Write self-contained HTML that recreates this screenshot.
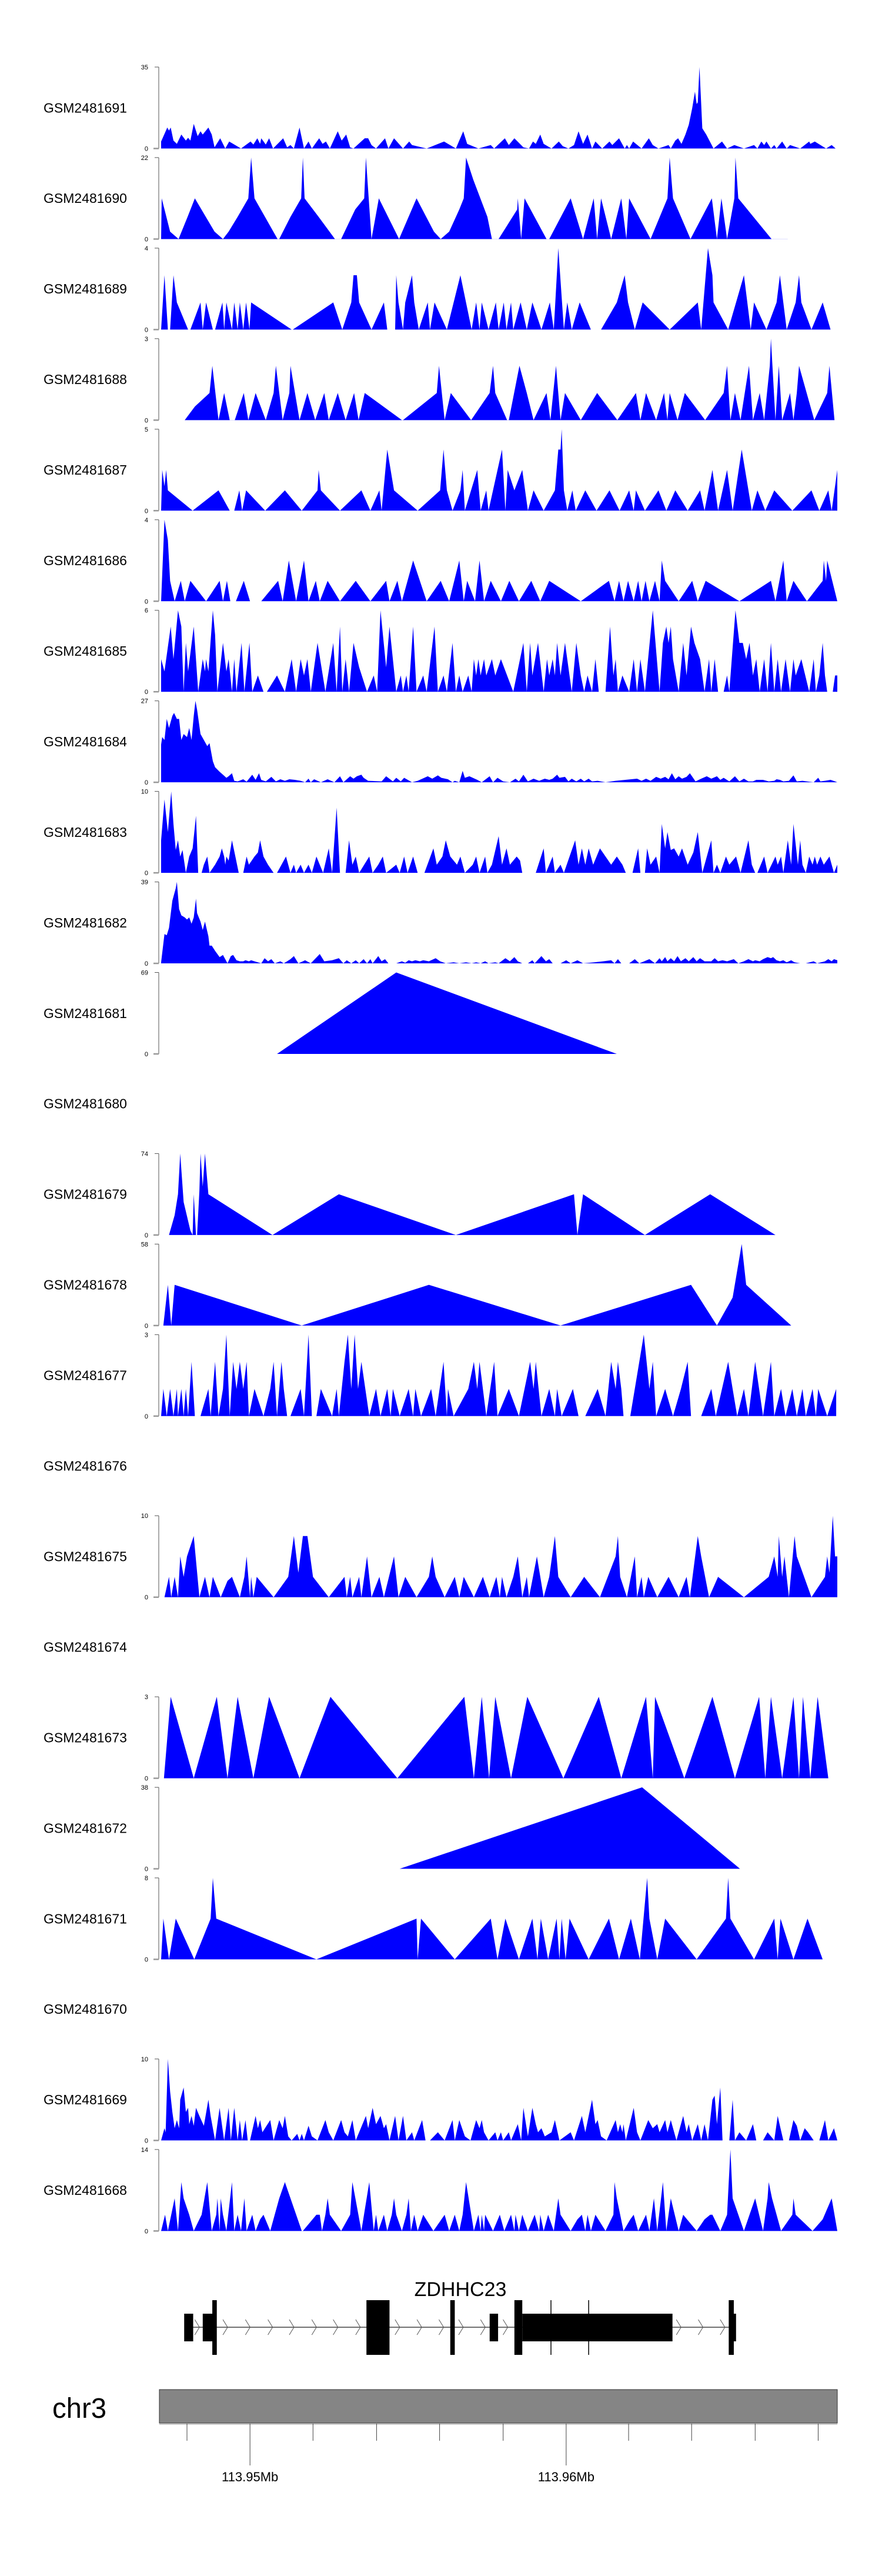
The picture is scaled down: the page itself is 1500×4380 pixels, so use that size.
<!DOCTYPE html>
<html><head><meta charset="utf-8">
<style>
html,body{margin:0;padding:0;background:#fff;}
svg{display:block;font-family:"Liberation Sans",sans-serif;}
</style></head>
<body>
<svg id="fig" width="1500" height="4380" viewBox="0 0 1500 4380" xmlns="http://www.w3.org/2000/svg"></svg>
<script>
// ---- data: genomic bin positions (0..1202) and coverage values ----
const sampleNames = ["GSM2481691","GSM2481690","GSM2481689","GSM2481688","GSM2481687","GSM2481686","GSM2481685","GSM2481684","GSM2481683","GSM2481682","GSM2481681","GSM2481680","GSM2481679","GSM2481678","GSM2481677","GSM2481676","GSM2481675","GSM2481674","GSM2481673","GSM2481672","GSM2481671","GSM2481670","GSM2481669","GSM2481668"];
const yMaxLabels = [35,22,4,3,5,4,6,27,10,39,69,null,74,58,3,null,10,null,3,38,8,null,10,14];
const cov1691 = [[0,3],[11,9],[14,7.7],[17,9],[22,3.4],[28,2],[36,6],[44,3.4],[48,4.6],[52,3.4],[58,10.6],[65,5.3],[70,7.4],[74,6],[84,9],[90,6],[95,0.5],[105,4.4],[114,0],[121,3],[142,0],[159,3],[164,1.7],[171,4.4],[176,2],[178,4.4],[186,1.7],[192,4.4],[199,0],[217,4.4],[224,0.5],[230,1.5],[236,0],[246,9],[254,0],[262,3],[268,0],[281,4.4],[287,2],[293,3],[300,0],[314,7.4],[321,3.4],[329,6],[336,0.5],[342,0],[362,4.4],[368,4.4],[374,1.5],[382,0],[398,4.4],[404,0],[414,4.4],[430,0],[441,3],[446,1.5],[472,0],[503,3],[524,0],[537,7.4],[544,2],[564,0],[586,1.5],[592,0],[611,4.4],[618,1.5],[628,4.4],[644,0.5],[654,0],[661,3],[666,2],[674,6],[680,2],[694,0],[707,3],[714,1],[724,0],[734,1.5],[742,7.4],[750,2],[758,6],[766,0],[772,3],[784,0],[797,3],[802,1.5],[814,4.4],[824,0],[828,1.5],[832,0],[839,3],[854,0],[867,4.4],[874,1.5],[884,0],[902,1.5],[906,0],[914,3.4],[919,4.4],[925,2],[932,6],[938,10.2],[944,17.3],[949,24.4],[952,19.1],[954,19.8],[957,35],[962,8.7],[969,6],[982,0],[997,3],[1006,0],[1019,1.5],[1036,0],[1054,1.5],[1060,0],[1067,3],[1072,1.5],[1076,3],[1084,0],[1090,1.5],[1094,0],[1104,3],[1112,0],[1118,1.5],[1136,0],[1152,3],[1154,2],[1162,3],[1182,0],[1192,1.5],[1199,0]];
const cov1690 = [[0,0],[1,11],[16,2],[31,0],[47,6],[60,11],[95,2],[110,0],[120,2],[136,6],[155,11],[160,22],[166,11],[207,0],[210,0],[230,6],[249,11],[252,22],[255,11],[280,6],[309,0],[320,0],[345,8],[361,11],[364,22],[374,0],[387,11],[423,0],[454,11],[485,2],[497,0],[512,2],[530,8],[538,11],[542,22],[555,16],[580,6],[588,0],[600,0],[633,8],[634,11],[640,0],[646,11],[685,0],[690,0],[728,11],[750,0],[769,11],[775,0],[782,11],[800,0],[818,11],[827,0],[832,11],[870,0],[900,11],[904,22],[910,11],[941,0],[979,11],[988,0],[996,11],[1006,0],[1019,11],[1021,22],[1026,11],[1085,0],[1114,0]];
const cov1689 = [[0,0],[6,2.67],[12,0],[16,0],[22,2.67],[28,1.33],[48,0],[52,0],[70,1.33],[74,0],[80,1.33],[92,0],[96,0],[109,1.33],[112,0],[116,1.33],[126,0],[130,1.33],[136,0],[140,1.33],[146,0],[151,1.33],[157,0],[160,1.33],[232,0],[234,0],[306,1.33],[322,0],[338,1.33],[342,2.67],[348,2.67],[352,1.33],[374,0],[396,1.33],[402,0],[416,0],[418,2.67],[422,1.33],[430,0],[434,1.33],[446,2.67],[450,1.33],[458,0],[474,1.33],[478,0],[486,1.33],[508,0],[532,2.67],[552,0],[560,1.33],[566,0],[570,1.33],[582,0],[595,1.33],[600,0],[609,1.33],[614,0],[622,1.33],[626,0],[639,1.33],[650,0],[660,1.33],[676,0],[691,1.33],[698,0],[706,4],[716,0],[722,1.33],[730,0],[744,1.33],[764,0],[782,0],[810,1.33],[824,2.67],[830,1.33],[842,0],[856,1.33],[904,0],[954,1.33],[960,0],[972,4],[980,2.67],[982,1.33],[1008,0],[1036,2.67],[1048,0],[1054,1.33],[1076,0],[1094,1.33],[1100,2.67],[1112,0],[1128,1.33],[1134,2.67],[1138,1.33],[1156,0],[1176,1.33],[1190,0]];
const cov1688 = [[42,0],[60,0.5],[86,1],[91,2],[102,0],[112,1],[122,0],[131,0],[147,1],[155,0],[168,1],[186,0],[200,1],[204,2],[216,0],[228,1],[230,2],[246,0],[260,1],[274,0],[290,1],[298,0],[314,1],[328,0],[343,1],[351,0],[362,1],[428,0],[430,0],[490,1],[494,2],[504,0],[515,1],[551,0],[584,1],[590,2],[594,1],[615,0],[618,0],[637,2],[650,1],[662,0],[685,1],[692,0],[702,2],[710,0],[718,1],[746,0],[775,1],[811,0],[844,1],[852,0],[862,1],[880,0],[894,1],[900,0],[904,1],[918,0],[931,1],[967,0],[1000,1],[1006,2],[1012,0],[1020,1],[1030,0],[1045,2],[1052,0],[1064,1],[1072,0],[1082,2],[1084,3],[1092,0],[1098,2],[1104,0],[1118,1],[1124,0],[1130,1],[1134,2],[1161,0],[1184,1],[1188,2],[1197,0]];
const cov1687 = [[0,0],[2,2.5],[6,1.5],[9,2.5],[12,1.25],[56,0],[102,1.25],[122,0],[130,0],[139,1.25],[144,0],[151,1.25],[185,0],[220,1.25],[250,0],[278,1.25],[280,2.5],[284,1.25],[318,0],[356,1.25],[372,0],[388,1.25],[392,0],[402,3.75],[414,1.25],[456,0],[496,1.25],[502,3.75],[508,1.25],[518,0],[532,1.25],[536,2.5],[540,0],[562,2.5],[568,0],[578,1.25],[582,0],[606,3.75],[612,0],[616,2.5],[628,1.25],[642,2.5],[652,0],[662,1.25],[680,0],[700,1.25],[706,3.75],[710,3.75],[712,5],[716,1.25],[722,0],[731,1.25],[737,0],[754,1.25],[774,0],[797,1.25],[815,0],[832,1.25],[840,0],[844,1.25],[860,0],[884,1.25],[898,0],[914,1.25],[936,0],[958,1.25],[966,0],[980,2.5],[990,0],[1006,2.5],[1016,0],[1032,3.75],[1050,0],[1060,1.25],[1074,0],[1090,1.25],[1122,0],[1156,1.25],[1170,0],[1186,1.25],[1192,0],[1202,2.5]];
const cov1686 = [[0,0],[6,4],[12,3],[16,1],[24,0],[35,1],[42,0],[52,1],[80,0],[104,1],[110,0],[117,1],[123,0],[133,0],[147,1],[158,0],[178,0],[208,1],[216,0],[227,2],[240,0],[254,2],[262,0],[275,1],[282,0],[296,1],[318,0],[346,1],[372,0],[400,1],[406,0],[420,1],[428,0],[448,2],[472,0],[497,1],[512,0],[530,2],[538,0],[544,1],[558,0],[566,2],[574,0],[586,1],[604,0],[619,1],[636,0],[658,1],[674,0],[690,1],[746,0],[796,1],[806,0],[814,1],[822,0],[830,1],[840,0],[848,1],[854,0],[861,1],[868,0],[878,1],[886,0],[890,2],[896,1],[920,0],[944,1],[954,0],[968,1],[1028,0],[1084,1],[1092,0],[1106,2],[1112,0],[1124,1],[1148,0],[1176,1],[1178,2],[1182,1],[1184,2],[1202,0]];
const cov1685 = [[0,2.4],[6,1.5],[17,4.8],[22,2.4],[30,6],[36,4.8],[40,0],[44,3.6],[48,1.5],[58,4.8],[66,0],[74,2.4],[78,1.5],[80,2.4],[84,1.5],[92,6],[96,4.2],[100,0],[110,3.6],[116,1.5],[120,2.4],[126,0],[130,2.4],[134,0],[143,3.6],[148,0],[157,3.6],[162,0],[172,1.2],[182,0],[188,0],[206,1.2],[220,0],[232,2.4],[240,0],[248,2.4],[254,1.2],[260,2.4],[266,0],[278,3.6],[292,0],[306,3.6],[312,0],[318,4.8],[322,0],[328,2.4],[334,0],[342,3.6],[352,1.8],[366,0],[378,1.2],[384,0],[390,6],[400,1.8],[406,4.8],[418,0],[426,1.2],[430,0],[436,1.2],[440,0],[448,4.8],[454,0],[466,1.2],[472,0],[486,4.8],[492,0],[502,1.2],[508,0],[518,3.6],[524,0],[530,1.2],[536,0],[546,1.2],[552,0],[556,2.4],[560,1.2],[564,2.4],[568,1.2],[574,2.4],[578,1.2],[588,2.4],[594,1.2],[604,2.4],[626,0],[644,3.6],[650,0],[656,3.6],[660,1.2],[670,3.6],[680,0],[686,2.4],[690,1.2],[696,2.4],[700,1.2],[704,3.6],[710,1.2],[718,3.6],[730,0],[738,3.6],[746,1.2],[752,0],[758,1.2],[766,0],[772,2.4],[778,0],[790,0],[798,4.8],[804,1.2],[808,2.4],[812,0],[820,1.2],[832,0],[840,2.4],[846,0],[852,2.4],[860,0],[874,6],[886,0],[892,3.6],[898,4.8],[902,3.6],[906,4.8],[910,2.4],[920,0],[928,3.6],[934,1.2],[942,4.8],[948,3.6],[958,2.4],[966,0],[974,2.4],[978,0],[984,2.4],[990,0],[1000,0],[1006,1.2],[1010,0],[1021,6],[1028,3.6],[1034,3.6],[1040,2.4],[1046,3.6],[1052,1.2],[1058,2.4],[1064,0],[1072,2.4],[1078,0],[1084,3.6],[1090,0],[1096,2.4],[1102,0],[1110,2.4],[1118,0],[1124,2.4],[1128,1.2],[1138,2.4],[1152,0],[1160,2.4],[1164,0],[1170,1.2],[1176,3.6],[1180,1.2],[1184,0],[1194,0],[1198,1.2],[1202,1.2]];
const cov1684 = [[0,12.5],[2,15],[6,14],[10,21],[14,18],[20,22],[23,23],[28,21],[32,21],[36,14],[40,16],[46,15],[50,18],[54,14],[58,22],[61,27],[64,24],[70,16],[76,14],[82,12],[86,13],[92,7],[96,5],[104,3.5],[110,2.5],[116,1.5],[120,2],[126,3],[130,0.5],[136,0.3],[146,1],[152,0.2],[162,2.5],[168,0.8],[174,3],[178,0.8],[186,0.3],[196,1.8],[204,0.3],[212,1],[220,0.5],[228,1],[238,0.8],[248,0.5],[256,0],[262,1.2],[266,0],[272,1],[284,0],[296,1],[308,0],[318,2],[324,0],[336,2],[342,1.2],[348,2],[356,2.5],[360,1.5],[368,0.5],[392,0.3],[400,2],[412,0.3],[418,1.5],[426,0.3],[432,1.5],[446,0],[456,0.5],[474,2],[482,1.2],[492,2.3],[498,1.5],[510,1],[518,0],[522,0.5],[530,0],[536,3.8],[540,1.5],[548,2],[562,0.8],[570,0],[584,2],[590,0],[598,1.5],[608,0.3],[620,0],[630,1.2],[636,0.3],[644,2.5],[652,0.3],[662,1.2],[672,0.5],[682,1.2],[690,0.8],[696,1.2],[704,2.5],[708,1.5],[718,1.8],[724,0.3],[730,1.2],[738,0.3],[746,1.2],[752,0.3],[760,1.2],[766,0.3],[776,0.5],[790,0],[808,0.5],[846,1.2],[854,0.5],[862,1.2],[870,0.5],[880,1.8],[888,1.2],[896,1.8],[902,1],[908,3],[914,1],[920,2],[926,1.2],[934,1.8],[940,3],[950,0.3],[960,1.2],[970,2],[978,1.2],[988,2],[994,0.8],[1000,1.5],[1010,0.3],[1020,2],[1028,0.3],[1036,1.2],[1044,0.3],[1052,0.3],[1058,0.8],[1070,0.8],[1080,0.3],[1090,0.5],[1094,1],[1100,0.8],[1106,0.3],[1116,0.5],[1124,2.3],[1130,0.3],[1140,0.5],[1160,0],[1168,1.5],[1172,0.3],[1180,0.5],[1190,0.8],[1198,0.3],[1202,0]];
const cov1683 = [[0,4],[6,9],[12,5],[18,10],[22,6],[26,2.8],[30,4],[34,2],[38,2.8],[44,0],[50,2],[56,3],[62,7],[66,0],[72,0],[76,1],[82,2],[86,0],[96,1],[104,2],[108,3],[112,2],[114,1],[116,2],[120,1.5],[126,4],[132,2],[138,0],[146,0],[152,2],[156,1],[166,2],[172,2.5],[176,4],[182,2],[190,1],[200,0],[206,0],[222,2],[230,0],[236,1],[240,0],[248,1],[254,0],[262,1],[268,0],[276,2],[288,0],[298,3],[304,0],[312,8],[318,0],[328,0],[334,4],[340,1],[346,2],[352,0],[370,2],[376,0],[386,1],[394,2],[400,0],[418,1],[424,0],[432,2],[438,0],[448,2],[456,0],[468,0],[484,3],[490,1],[500,2],[506,4],[514,2],[526,1],[532,2],[540,0],[554,1],[560,2],[566,0],[576,2],[580,0],[588,1],[600,4.5],[606,1],[614,3],[620,1],[632,2],[638,1.5],[642,0],[666,0],[680,3],[684,0],[696,2],[700,0],[710,1],[716,0],[736,4],[742,1],[748,3],[754,1],[760,3],[768,1],[780,3],[800,1],[810,2],[820,1],[826,0],[838,0],[848,3],[852,0],[860,0],[864,3],[870,1],[880,2],[886,0],[890,6],[896,3],[900,5],[906,2.8],[912,3],[920,2],[926,3],[936,1],[946,2.5],[954,5],[962,0],[978,4],[982,0],[988,1],[994,0],[1004,2],[1010,1],[1022,2],[1030,0],[1044,4],[1050,1],[1056,0],[1060,0],[1072,2],[1078,0],[1092,2],[1096,1],[1102,2],[1106,0],[1114,4],[1120,1],[1124,6],[1132,1],[1136,4],[1140,1],[1146,0],[1152,2],[1158,1],[1162,2],[1166,1],[1172,2],[1178,1],[1188,2],[1196,0],[1202,1]];
const cov1682 = [[0,0.5],[6,14],[10,13.5],[14,17],[20,30],[26,36],[28,39],[32,26],[36,23],[42,22],[46,21],[50,22],[54,19],[58,22],[62,31],[64,24],[70,20],[74,16],[78,20],[84,13],[86,8.5],[90,8.5],[96,6],[100,4.5],[104,3],[110,4],[118,0],[124,3.5],[128,4],[134,1.5],[140,1],[146,1],[150,1.5],[156,1],[160,1.5],[166,1],[178,0],[184,2.5],[190,1],[196,2],[202,0],[212,1],[218,0],[224,1],[230,2],[236,3.5],[244,0],[256,1.5],[266,0],[282,4.5],[290,1],[304,1.5],[316,2.5],[324,0],[330,1.5],[338,0],[346,1.5],[352,0],[360,2],[366,0],[372,2],[376,0],[386,3.5],[392,1],[398,2],[404,0],[418,0],[428,1],[434,0.3],[440,1.5],[446,1],[452,1.5],[460,1],[466,1.5],[476,1],[488,2.5],[496,1],[506,0],[520,0.5],[530,0],[542,0.5],[552,0],[560,0.5],[568,0],[576,1],[582,0],[594,0.5],[600,0],[612,2.5],[620,1],[628,3],[634,1],[642,0],[652,0],[660,1.5],[664,0],[676,3.5],[684,1],[690,2],[696,0],[710,0],[720,1.5],[728,0],[740,1.5],[750,0],[770,0.5],[786,1],[800,1.5],[806,0],[812,2],[818,0],[832,0],[842,2],[850,0],[868,2],[878,0],[886,2.5],[890,1],[896,3],[900,1],[906,2.5],[912,1],[918,3.5],[924,1],[932,2.5],[938,1],[946,3],[952,1],[958,2.5],[966,1],[978,1],[984,2.5],[990,1],[998,1.5],[1006,1],[1018,2],[1026,0],[1036,1],[1044,2],[1052,1],[1056,1.5],[1064,1],[1070,2],[1078,3],[1084,2.5],[1088,3],[1094,1.5],[1100,1],[1106,1.5],[1112,0.5],[1120,1.5],[1126,0.5],[1136,0],[1146,0],[1160,1],[1166,0],[1180,1],[1186,2],[1192,1],[1196,2],[1202,1.5]];
const cov1681 = [[206,0],[418,69],[810,0]];
const cov1680 = [];
const cov1679 = [[14,0],[24,18],[30,37],[34,74],[40,30],[52,4],[56,0],[58,37],[62,0],[64,0],[68,40],[70,74],[74,44],[78,74],[84,37],[198,0],[316,37],[524,0],[734,37],[740,0],[750,37],[860,0],[976,37],[1092,0]];
const cov1678 = [[4,0],[12,29],[18,0],[24,29],[250,0],[476,29],[710,0],[942,29],[988,0],[1016,20],[1032,58],[1040,29],[1120,0]];
const cov1677 = [[0,0],[4,1],[10,0],[16,1],[22,0],[28,1],[30,0],[36,1],[40,0],[44,1],[48,0],[54,2],[60,0],[70,0],[84,1],[88,0],[96,2],[102,0],[110,1],[116,3],[122,0],[128,2],[134,1],[140,2],[146,1],[152,2],[156,0],[166,1],[182,0],[194,1],[200,2],[206,0],[214,2],[218,1],[224,0],[230,0],[248,1],[254,0],[262,3],[268,0],[276,0],[284,1],[304,0],[312,1],[316,0],[326,2],[332,3],[338,1],[344,3],[350,1],[356,2],[370,0],[382,1],[390,0],[402,1],[408,0],[412,1],[424,0],[440,1],[448,0],[452,1],[462,0],[480,1],[488,0],[502,2],[508,0],[510,1],[520,0],[546,1],[556,2],[562,1],[566,2],[578,0],[592,2],[598,0],[618,1],[636,0],[656,2],[662,1],[666,2],[676,0],[690,1],[700,0],[704,1],[712,0],[732,1],[742,0],[754,0],[776,1],[790,0],[800,2],[808,1],[812,2],[818,1],[822,0],[834,0],[858,3],[868,1],[874,2],[880,0],[896,1],[910,0],[924,1],[936,2],[942,0],[960,0],[978,1],[986,0],[1008,2],[1016,1],[1024,0],[1036,1],[1044,0],[1056,2],[1070,0],[1084,2],[1090,0],[1102,1],[1110,0],[1122,1],[1130,0],[1140,1],[1146,0],[1158,1],[1164,0],[1168,1],[1184,0],[1200,1]];
const cov1676 = [];
const cov1675 = [[6,0],[14,2.5],[18,0],[24,2.5],[30,0],[34,5],[40,2.5],[46,5],[58,7.5],[68,0],[78,2.5],[86,0],[92,2.5],[106,0],[118,2],[126,2.5],[140,0],[148,2.5],[152,5],[158,0],[160,2.5],[164,0],[170,2.5],[200,0],[226,2.5],[236,7.5],[244,3],[252,7.5],[260,7.5],[270,2.5],[298,0],[326,2.5],[330,0],[336,2.5],[340,0],[352,2.5],[356,0],[366,5],[374,0],[388,2.5],[396,0],[414,5],[422,0],[434,2.5],[454,0],[476,2.5],[482,5],[488,2.5],[504,0],[522,2.5],[530,0],[538,2.5],[556,0],[572,2.5],[584,0],[596,2.5],[602,0],[606,2.5],[614,0],[626,2.5],[634,5],[642,0],[650,2.5],[654,0],[668,5],[680,0],[690,2.5],[700,7.5],[706,2.5],[728,0],[752,2.5],[780,0],[808,5],[812,7.5],[816,2.5],[828,0],[842,5],[846,0],[854,2.5],[858,0],[866,2.5],[882,0],[902,2.5],[920,0],[934,2.5],[940,0],[954,7.5],[960,5],[974,0],[990,2.5],[1036,0],[1080,2.5],[1090,5],[1096,2.5],[1098,7.5],[1104,2.5],[1108,5],[1116,0],[1126,7.5],[1130,5],[1156,0],[1180,2.5],[1184,5],[1188,3],[1194,10],[1198,5],[1202,5]];
const cov1674 = [];
const cov1673 = [[5,0],[17,3],[58,0],[99,3],[118,0],[136,3],[164,0],[192,3],[246,0],[301,3],[420,0],[539,3],[556,0],[570,3],[583,0],[594,3],[622,0],[651,3],[715,0],[778,3],[818,0],[862,3],[874,0],[878,3],[930,0],[980,3],[1020,0],[1063,3],[1074,0],[1084,3],[1104,0],[1124,3],[1134,0],[1141,3],[1154,0],[1167,3],[1186,0]];
const cov1672 = [[424,0],[855,38],[1029,0]];
const cov1671 = [[0,0],[4,4],[14,0],[26,4],[59,0],[88,4],[92,8],[98,4],[276,0],[454,4],[456,0],[462,4],[522,0],[586,4],[598,0],[612,4],[636,0],[660,4],[669,0],[675,4],[688,0],[703,4],[708,0],[712,4],[719,0],[726,4],[760,0],[796,4],[814,0],[835,4],[851,0],[864,8],[868,4],[882,0],[896,4],[952,0],[1004,4],[1008,8],[1012,4],[1054,0],[1090,4],[1096,0],[1101,4],[1124,0],[1149,4],[1176,0]];
const cov1670 = [];
const cov1669 = [[0,0],[6,1.5],[8,1],[12,10],[16,6],[20,3.5],[24,1.5],[28,2.5],[32,1.5],[34,5],[40,6.5],[44,3.5],[48,4],[50,2],[54,3],[58,1.8],[62,4],[68,3],[76,1.8],[84,5],[88,3],[96,0],[104,4],[108,2],[112,0],[120,4],[124,0],[130,4],[136,0],[140,2.5],[144,0],[150,2.5],[154,0],[158,0],[168,3],[172,1.5],[176,2.5],[180,1],[194,2.5],[200,0],[210,2.5],[216,1.5],[220,3],[226,0.5],[232,0],[242,0.8],[246,0],[250,0.8],[254,0],[262,1.8],[268,0.5],[278,0],[292,2.5],[298,1],[306,0],[320,2.5],[326,1],[332,0.5],[340,2.5],[346,0],[364,3],[368,1.5],[376,4],[382,2],[390,3],[396,1.5],[400,2],[406,0],[416,3],[422,0],[430,3],[436,0],[446,1],[450,0],[464,2.5],[470,0],[478,0],[492,1],[504,0],[518,2.5],[522,0],[530,2.5],[540,0.5],[550,0],[560,2.5],[566,1.5],[570,2.5],[574,1],[582,0],[594,1],[598,0],[604,1],[608,0],[618,1],[622,0],[634,2],[640,0],[644,4],[652,0.5],[660,4],[666,2],[670,1],[676,1.5],[682,0.5],[694,1],[700,2.5],[708,0],[728,1],[734,0],[748,3],[754,1],[766,5],[772,2],[776,2.5],[782,0.5],[792,0],[808,2.5],[812,1],[816,2],[820,1],[822,2],[826,0],[840,4],[846,1],[852,0],[866,2.5],[874,1.5],[882,2],[886,1],[896,2.5],[900,1],[906,2.5],[916,0],[928,3],[934,1],[938,2],[944,0],[954,2],[960,0],[966,2],[972,0],[980,5],[984,5.5],[988,2],[994,6.5],[998,0],[1010,0],[1016,5],[1020,0],[1028,1],[1040,0],[1052,2],[1058,0],[1070,0],[1078,1],[1090,0],[1096,3],[1100,1.8],[1106,0],[1116,0],[1124,2.5],[1130,1.8],[1136,0],[1144,1.5],[1150,1],[1160,0],[1170,0],[1180,2.5],[1186,0],[1196,1.5],[1202,0]];
const cov1668 = [[0,0],[7,2.8],[12,0],[24,5.6],[30,0],[36,8.4],[40,5.6],[50,2.8],[58,0],[72,2.8],[82,8.4],[90,0],[98,2.8],[100,5.6],[104,0],[106,5.6],[110,2.8],[116,0],[126,8.4],[130,0],[136,2.8],[142,0],[148,5.6],[152,0],[162,2.8],[168,0],[176,2],[182,2.8],[194,0],[210,5.6],[220,8.4],[250,0],[252,0],[276,2.8],[282,2.8],[286,0],[292,2.8],[296,5.6],[300,2.8],[320,0],[336,2.8],[340,8.4],[356,0],[370,8.4],[378,0],[382,2.8],[386,0],[396,2.8],[402,0],[410,2.8],[414,5.6],[418,2.8],[428,0],[436,2.8],[440,5.6],[444,0],[450,2.8],[456,0],[466,2.8],[484,0],[504,2.8],[512,0],[522,2.8],[530,0],[536,2.8],[542,8.4],[556,0],[564,2.8],[568,0],[570,2.8],[574,0],[576,2.8],[590,0],[602,2.8],[610,0],[622,2.8],[628,0],[630,2.8],[636,0],[642,2.8],[652,0],[664,2.8],[672,0],[674,2.8],[680,0],[688,2.8],[698,0],[706,5.6],[710,2.8],[728,0],[740,2],[748,2.8],[754,0],[758,2.8],[764,0],[772,2.8],[790,0],[804,2.8],[806,8.4],[810,5.6],[822,0],[834,2],[840,2.8],[848,0],[862,2.8],[868,0],[876,5.6],[882,0],[892,8.4],[898,0],[906,5.6],[920,0],[928,2.8],[952,0],[966,2],[976,2.8],[980,2.8],[994,0],[1006,2.8],[1012,14],[1016,5.6],[1036,0],[1056,5.6],[1070,0],[1078,5.6],[1080,8.4],[1086,5.6],[1102,0],[1122,2.8],[1124,5.6],[1128,2.8],[1158,0],[1176,2],[1192,5.6],[1202,0]];
const coverage = [cov1691,cov1690,cov1689,cov1688,cov1687,cov1686,cov1685,cov1684,cov1683,cov1682,cov1681,cov1680,cov1679,cov1678,cov1677,cov1676,cov1675,cov1674,cov1673,cov1672,cov1671,cov1670,cov1669,cov1668];
// gene model (bins)
const exonStarts = [41,74,91,365,514,584,628,642,1009,1013];
const exonEnds   = [57,95,99,406,522,599,642,909,1018,1022];
const exonKinds  = ["utr","utr","cds","cds","cds","utr","cds","utr","cds","utr"];
const intronStart = 57, intronEnd = 1009;
const arrowBins = [64,114,154,194,232,272,310,350,420,459,498,533,572,612,920,959,998];
const cdsLines = [693,760];
const axisTickBins = [46,158,270,383,495,608,720,831,943,1056,1168];
const axisLabelBins = [158,720];
const axisLabels = ["113.95Mb","113.96Mb"];

// ---- layout ----
const X0 = 274, X1 = 1424, BINMAX = 1202;
const xScale = b => X0 + b/BINMAX*(X1-X0);
const TRACK_TOP0 = 114, PITCH = 153.95, PLOT_H = 138.5;
const NS = "http://www.w3.org/2000/svg";
const svg = document.getElementById('fig');
function mk(tag, attrs, parent){ const e=document.createElementNS(NS,tag); for(const k in attrs) e.setAttribute(k,attrs[k]); (parent||svg).appendChild(e); return e; }

sampleNames.forEach((name,i)=>{
  const top = TRACK_TOP0 + i*PITCH, base = top + PLOT_H;
  const g = mk('g',{});
  
  
  const lab = mk('text',{x:74,y:top+PLOT_H/2+8,'font-size':23,fill:'#000'},g);
  lab.textContent = name;
  
  
  const mx = yMaxLabels[i];
  if(mx===null) return;
  const yScale = v => base - v/mx*PLOT_H;
  const ax = mk('line',{x1:270,y1:top,x2:270,y2:base,stroke:'#555','stroke-width':1},g);
  
  
  mk('line',{x1:263,y1:top,x2:270,y2:top,stroke:'#555','stroke-width':1},g);
  mk('line',{x1:261,y1:base,x2:270,y2:base,stroke:'#999','stroke-width':2.5},g);
  const t1 = mk('text',{x:252,y:top+4,'font-size':11,'text-anchor':'end',fill:'#000'},g);
  t1.textContent = mx;
  
  
  const t0 = mk('text',{x:252,y:base+4,'font-size':11,'text-anchor':'end',fill:'#000'},g);
  t0.textContent = '0';
  
  
  const pts = coverage[i];
  if(!pts.length) return;
  let d = 'M'+xScale(pts[0][0]).toFixed(1)+','+base;
  pts.forEach(p=>{ d += 'L'+xScale(p[0]).toFixed(1)+','+yScale(p[1]).toFixed(1); });
  d += 'L'+xScale(pts[pts.length-1][0]).toFixed(1)+','+base+'Z';
  const area = mk('path',{d:d,fill:'#0000ff',stroke:'none'},g);
  
  
});

// gene track
const gg = mk('g',{});


const gname = mk('text',{x:783,y:3904,'font-size':34,'text-anchor':'middle',fill:'#000'},gg);
gname.textContent = 'ZDHHC23';


const GY = 3957;
const il = mk('line',{x1:xScale(intronStart),y1:GY,x2:xScale(intronEnd),y2:GY,stroke:'#444','stroke-width':1.5},gg);


arrowBins.forEach(b=>{
  const x = xScale(b);
  const a = mk('path',{d:`M${x-4},${GY-13}L${x+4},${GY}L${x-4},${GY+13}`,fill:'none',stroke:'#555','stroke-width':1},gg);
  
  
});
exonStarts.forEach((s,k)=>{
  const tall = exonKinds[k]==='cds';
  const y0 = tall?3911:3934, y1 = tall?4004:3981;
  const r = mk('rect',{x:xScale(s),y:y0,width:Math.max(2,xScale(exonEnds[k])-xScale(s)),height:y1-y0,fill:'#000'},gg);
  
  
});
cdsLines.forEach(b=>{
  const l = mk('line',{x1:xScale(b),y1:3911,x2:xScale(b),y2:4004,stroke:'#000','stroke-width':1.5},gg);
  
  
});

// chromosome axis
const cg = mk('g',{});


const cl = mk('text',{x:89,y:4111,'font-size':48,fill:'#000',textLength:92,lengthAdjust:'spacingAndGlyphs'},cg);
cl.textContent = 'chr3';


const box = mk('rect',{x:271,y:4063,width:1153,height:57,fill:'#858585',stroke:'#333','stroke-width':1},cg);


mk('line',{x1:271,y1:4122,x2:1424,y2:4122,stroke:'#ccc','stroke-width':2},cg);
axisTickBins.forEach(b=>{
  const major = axisLabelBins.includes(b);
  const t = mk('line',{x1:xScale(b),y1:4121,x2:xScale(b),y2:major?4192:4150,stroke:'#444','stroke-width':1},cg);
  
  
});
axisLabelBins.forEach((b,k)=>{
  const t = mk('text',{x:xScale(b),y:4219,'font-size':22,'text-anchor':'middle',fill:'#000'},cg);
  t.textContent = axisLabels[k];
  
  
});
</script>
</body></html>
